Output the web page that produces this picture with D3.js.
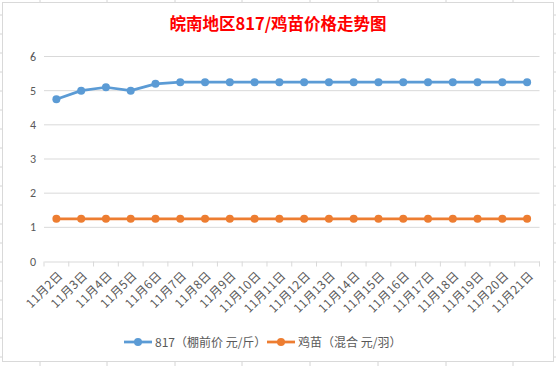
<!DOCTYPE html>
<html>
<head>
<meta charset="utf-8">
<script src="https://cdn.jsdelivr.net/npm/d3@7"></script>
<style>
  body { margin: 0; background: #fff; }
  svg { display: block; font-family: "Microsoft YaHei", "Noto Sans CJK SC", sans-serif; }
</style>
</head>
<body>
<svg width="556" height="366"></svg>
<script>
// chart data
const dates = ["11月2日","11月3日","11月4日","11月5日","11月6日","11月7日","11月8日","11月9日","11月10日","11月11日",
               "11月12日","11月13日","11月14日","11月15日","11月16日","11月17日","11月18日","11月19日","11月20日","11月21日"];
const price817 = [4.75, 5.0, 5.1, 5.0, 5.2, 5.25, 5.25, 5.25, 5.25, 5.25,
                  5.25, 5.25, 5.25, 5.25, 5.25, 5.25, 5.25, 5.25, 5.25, 5.25];
const chickPrice = [1.25, 1.25, 1.25, 1.25, 1.25, 1.25, 1.25, 1.25, 1.25, 1.25,
                    1.25, 1.25, 1.25, 1.25, 1.25, 1.25, 1.25, 1.25, 1.25, 1.25];
const yTicks = [0, 1, 2, 3, 4, 5, 6];
const seriesNames = ["817（棚前价 元/斤）", "鸡苗（混合 元/羽）"];
const seriesColors = ["#5B9BD5", "#ED7D31"];

const svg = d3.select("svg");

// spreadsheet cells behind the chart
const sheetCols = [40, 107, 175, 242, 310, 378, 446, 513];
const sheetRows = d3.range(15, 366, 19);
svg.selectAll(".scol").data(sheetCols).enter().append("line")
   .attr("x1", d => d).attr("x2", d => d).attr("y1", 0).attr("y2", 366)
   .attr("stroke", "#d4d4d4");
svg.selectAll(".srow").data(sheetRows).enter().append("line")
   .attr("x1", 0).attr("x2", 556).attr("y1", d => d).attr("y2", d => d)
   .attr("stroke", "#d4d4d4");

// chart frame
svg.append("rect")
   .attr("x", 2.5).attr("y", 2.5).attr("width", 551).attr("height", 359)
   .attr("fill", "#fff").attr("stroke", "#d9d9d9");

// title
svg.append("text")
   .attr("x", 278).attr("y", 30)
   .attr("text-anchor", "middle")
   .attr("fill", "#ff0000")
   .attr("font-size", 16.5).attr("font-weight", "bold")
   .text("皖南地区817/鸡苗价格走势图");

const plotLeft = 44, plotRight = 539.5, plotTop = 56.5, plotBottom = 261.5;

const x = d3.scaleBand().domain(dates).range([plotLeft, plotRight]);
const y = d3.scaleLinear().domain([0, 6]).range([plotBottom, plotTop]);

// gridlines
svg.selectAll(".grid").data(yTicks.filter(d => d > 0)).enter().append("line")
   .attr("x1", plotLeft).attr("x2", plotRight)
   .attr("y1", d => y(d)).attr("y2", d => y(d))
   .attr("stroke", "#d9d9d9");

// y labels
svg.selectAll(".ylab").data(yTicks).enter().append("text")
   .attr("x", 36).attr("y", d => y(d) + 4)
   .attr("text-anchor", "end")
   .attr("fill", "#595959").attr("font-size", 12)
   .attr("font-family", "Calibri, Carlito, 'Liberation Sans', sans-serif")
   .text(d => d);

// x axis
const xAxis = svg.append("g").attr("transform", `translate(0,${plotBottom})`)
   .call(d3.axisBottom(x).tickSize(0).tickFormat(""));
xAxis.select(".domain").attr("stroke", "#d9d9d9");
svg.selectAll(".xtick").data(d3.range(dates.length + 1)).enter().append("line")
   .attr("x1", i => plotLeft + i * x.step()).attr("x2", i => plotLeft + i * x.step())
   .attr("y1", plotBottom).attr("y2", plotBottom + 5)
   .attr("stroke", "#d9d9d9");

svg.selectAll(".xlab").data(dates).enter().append("text")
   .attr("transform", d => `translate(${x(d) + x.bandwidth() / 2 + 7},${plotBottom + 15}) rotate(-45)`)
   .attr("text-anchor", "end")
   .attr("fill", "#595959").attr("font-size", 12)
   .attr("letter-spacing", 0.3)
   .text(d => d);

// series
const series = [price817, chickPrice];
const line = d3.line()
   .x((d, i) => x(dates[i]) + x.bandwidth() / 2)
   .y(d => y(d));

series.forEach((vals, k) => {
    svg.append("path")
       .datum(vals)
       .attr("d", line)
       .attr("fill", "none")
       .attr("stroke", seriesColors[k])
       .attr("stroke-width", 2.75)
       .attr("stroke-linejoin", "round");
    svg.selectAll(".pt" + k).data(vals).enter().append("circle")
       .attr("cx", (d, i) => x(dates[i]) + x.bandwidth() / 2)
       .attr("cy", d => y(d))
       .attr("r", 4)
       .attr("fill", seriesColors[k]);
});

// legend
const legendX = [124, 267];
seriesNames.forEach((name, k) => {
    const g = svg.append("g").attr("transform", `translate(${legendX[k]},342)`);
    g.append("line").attr("x1", 0).attr("x2", 28).attr("y1", 0).attr("y2", 0)
     .attr("stroke", seriesColors[k]).attr("stroke-width", 2.75);
    g.append("circle").attr("cx", 14).attr("cy", 0).attr("r", 4).attr("fill", seriesColors[k]);
    g.append("text").attr("x", 31).attr("y", 4.5)
     .attr("fill", "#595959").attr("font-size", 12)
     .text(name);
});
</script>
</body>
</html>
